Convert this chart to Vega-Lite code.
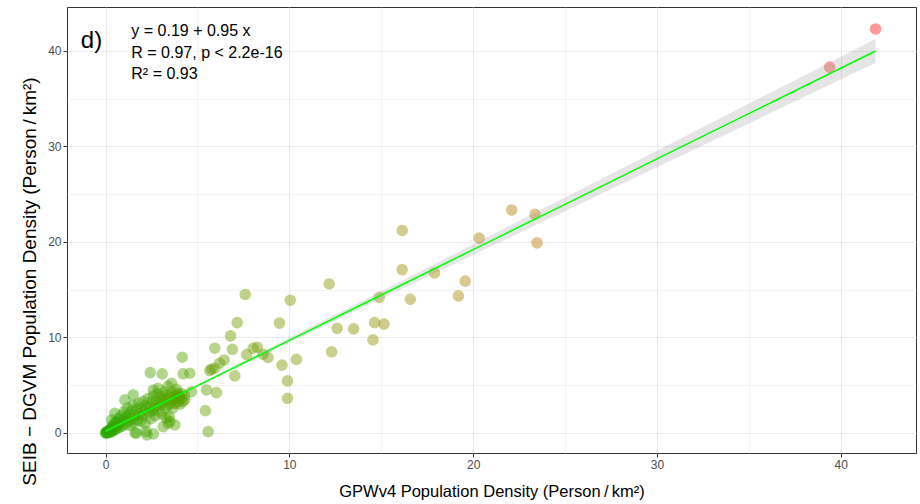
{
  "$schema": "https://vega.github.io/schema/vega-lite/v6.json",
  "autosize": "none",
  "width": 849,
  "height": 446,
  "padding": {"left": 67, "top": 7, "right": 4, "bottom": 51},
  "background": "white",
  "config": {
    "font": "Liberation Sans",
    "view": {"stroke": "#333333", "strokeWidth": 1},
    "axis": {
      "domain": false,
      "labelFont": "Liberation Sans",
      "labelFontSize": 12,
      "labelColor": "#4d4d4d",
      "tickColor": "#333333",
      "tickSize": 4,
      "titleFont": "Liberation Sans",
      "titleFontWeight": "normal",
      "titleColor": "#000000"
    }
  },
  "datasets": {
    "pts": [
      {"gpw": 41.9, "seib": 42.3}, {"gpw": 39.4, "seib": 38.3},
      {"gpw": 22.1, "seib": 23.35}, {"gpw": 23.37, "seib": 22.9}, {"gpw": 20.33, "seib": 20.4}, {"gpw": 23.48, "seib": 19.9},
      {"gpw": 19.57, "seib": 15.9}, {"gpw": 19.2, "seib": 14.35}, {"gpw": 17.9, "seib": 16.75}, {"gpw": 16.14, "seib": 17.1},
      {"gpw": 16.14, "seib": 21.2}, {"gpw": 12.17, "seib": 15.6}, {"gpw": 14.9, "seib": 14.2}, {"gpw": 16.58, "seib": 14.0},
      {"gpw": 7.6, "seib": 14.5}, {"gpw": 10.05, "seib": 13.9}, {"gpw": 7.16, "seib": 11.55}, {"gpw": 9.46, "seib": 11.5},
      {"gpw": 12.6, "seib": 10.95}, {"gpw": 13.5, "seib": 10.9}, {"gpw": 14.64, "seib": 11.55}, {"gpw": 15.15, "seib": 11.4},
      {"gpw": 14.55, "seib": 9.74}, {"gpw": 12.3, "seib": 8.5}, {"gpw": 6.8, "seib": 10.16}, {"gpw": 5.94, "seib": 8.87},
      {"gpw": 6.9, "seib": 8.76}, {"gpw": 7.68, "seib": 8.2}, {"gpw": 8.03, "seib": 8.87}, {"gpw": 8.26, "seib": 8.97},
      {"gpw": 8.57, "seib": 8.24}, {"gpw": 8.84, "seib": 7.9}, {"gpw": 10.38, "seib": 7.7}, {"gpw": 9.6, "seib": 7.1},
      {"gpw": 6.45, "seib": 7.64}, {"gpw": 5.76, "seib": 6.67}, {"gpw": 5.94, "seib": 6.78}, {"gpw": 7.03, "seib": 5.97},
      {"gpw": 9.9, "seib": 5.45}, {"gpw": 9.9, "seib": 3.63}, {"gpw": 5.49, "seib": 4.5}, {"gpw": 6.03, "seib": 4.22},
      {"gpw": 5.43, "seib": 2.34}, {"gpw": 5.58, "seib": 0.14}, {"gpw": 6.2, "seib": 7.3}, {"gpw": 5.67, "seib": 6.52},
      {"gpw": 4.17, "seib": 7.93}, {"gpw": 4.22, "seib": 6.18}, {"gpw": 4.59, "seib": 6.25}, {"gpw": 2.43, "seib": 6.32},
      {"gpw": 3.08, "seib": 6.18}, {"gpw": 3.59, "seib": 5.2}, {"gpw": 3.4, "seib": 4.9}, {"gpw": 2.6, "seib": 4.5},
      {"gpw": 2.86, "seib": 4.68}, {"gpw": 3.86, "seib": 4.57}, {"gpw": 4.67, "seib": 4.32}, {"gpw": 4.3, "seib": 3.46},
      {"gpw": 3.95, "seib": 3.98}, {"gpw": 1.5, "seib": 3.98}, {"gpw": 1.05, "seib": 3.46},
      {"gpw": 0, "seib": 0}, {"gpw": 0.02, "seib": 0.05}, {"gpw": 0.05, "seib": -0.02}, {"gpw": 0.08, "seib": 0.1},
      {"gpw": 0.1, "seib": 0.02}, {"gpw": 0.12, "seib": 0.18}, {"gpw": 0.15, "seib": 0.08}, {"gpw": 0.18, "seib": 0.25},
      {"gpw": 0.2, "seib": 0.12}, {"gpw": 0.22, "seib": 0.3}, {"gpw": 0.25, "seib": 0.05}, {"gpw": 0.28, "seib": 0.4},
      {"gpw": 0.3, "seib": 0.22}, {"gpw": 0.33, "seib": 0.55}, {"gpw": 0.35, "seib": 0.15}, {"gpw": 0.38, "seib": 0.45},
      {"gpw": 0.4, "seib": 0.8}, {"gpw": 0.42, "seib": 0.3}, {"gpw": 0.45, "seib": 0.6}, {"gpw": 0.48, "seib": 1.0},
      {"gpw": 0.5, "seib": 0.35}, {"gpw": 0.5, "seib": 2.06}, {"gpw": 0.33, "seib": 1.36}, {"gpw": 0.55, "seib": 0.7},
      {"gpw": 0.6, "seib": 1.2}, {"gpw": 0.62, "seib": 0.45}, {"gpw": 0.65, "seib": 0.95}, {"gpw": 0.69, "seib": 0.84},
      {"gpw": 0.7, "seib": 1.5}, {"gpw": 0.75, "seib": 0.6}, {"gpw": 0.8, "seib": 1.1}, {"gpw": 0.85, "seib": 1.8},
      {"gpw": 0.9, "seib": 0.7}, {"gpw": 0.95, "seib": 1.3}, {"gpw": 1.0, "seib": 2.2}, {"gpw": 1.05, "seib": 1.54},
      {"gpw": 1.1, "seib": 0.9}, {"gpw": 1.15, "seib": 1.7}, {"gpw": 1.2, "seib": 2.6}, {"gpw": 1.25, "seib": 1.2},
      {"gpw": 1.3, "seib": 1.9}, {"gpw": 1.35, "seib": 0.8}, {"gpw": 1.4, "seib": 2.3}, {"gpw": 1.45, "seib": 1.5},
      {"gpw": 1.5, "seib": 2.9}, {"gpw": 1.55, "seib": 1.1}, {"gpw": 1.6, "seib": 0.0}, {"gpw": 1.6, "seib": 1.8},
      {"gpw": 1.68, "seib": 0.0}, {"gpw": 1.7, "seib": 2.5}, {"gpw": 1.75, "seib": 1.4}, {"gpw": 1.8, "seib": 3.1},
      {"gpw": 1.85, "seib": 2.0}, {"gpw": 1.9, "seib": 1.2}, {"gpw": 1.95, "seib": 2.6}, {"gpw": 2.0, "seib": 1.8},
      {"gpw": 2.05, "seib": 3.3}, {"gpw": 2.1, "seib": 2.3}, {"gpw": 2.15, "seib": 1.0}, {"gpw": 2.2, "seib": 0.14},
      {"gpw": 2.2, "seib": 2.9}, {"gpw": 2.25, "seib": -0.2}, {"gpw": 2.3, "seib": 3.6}, {"gpw": 2.35, "seib": 2.1},
      {"gpw": 2.4, "seib": 2.7}, {"gpw": 2.45, "seib": 1.5}, {"gpw": 2.5, "seib": 3.2}, {"gpw": 2.55, "seib": 2.3},
      {"gpw": 2.6, "seib": -0.1}, {"gpw": 2.6, "seib": 3.9}, {"gpw": 2.65, "seib": 2.6}, {"gpw": 2.7, "seib": 1.8},
      {"gpw": 2.75, "seib": 3.4}, {"gpw": 2.8, "seib": 2.9}, {"gpw": 2.85, "seib": 4.1}, {"gpw": 2.9, "seib": 2.3},
      {"gpw": 2.95, "seib": 3.6}, {"gpw": 3.0, "seib": 3.0}, {"gpw": 3.05, "seib": 2.0}, {"gpw": 3.1, "seib": 3.8},
      {"gpw": 3.14, "seib": 0.66}, {"gpw": 3.15, "seib": 3.2}, {"gpw": 3.2, "seib": 4.3}, {"gpw": 3.25, "seib": 2.6},
      {"gpw": 3.3, "seib": 1.54}, {"gpw": 3.3, "seib": 3.5}, {"gpw": 3.35, "seib": 4.0}, {"gpw": 3.4, "seib": 1.0},
      {"gpw": 3.4, "seib": 2.9}, {"gpw": 3.46, "seib": 1.7}, {"gpw": 3.5, "seib": 1.18}, {"gpw": 3.5, "seib": 3.7},
      {"gpw": 3.55, "seib": 3.1}, {"gpw": 3.6, "seib": 4.2}, {"gpw": 3.65, "seib": 2.6}, {"gpw": 3.7, "seib": 3.5},
      {"gpw": 3.75, "seib": 3.9}, {"gpw": 3.77, "seib": 0.84}, {"gpw": 3.8, "seib": 3.1}, {"gpw": 3.85, "seib": 3.7},
      {"gpw": 3.9, "seib": 4.2}, {"gpw": 3.95, "seib": 3.3}, {"gpw": 4.0, "seib": 3.8}, {"gpw": 4.05, "seib": 3.0},
      {"gpw": 4.1, "seib": 3.6}, {"gpw": 4.15, "seib": 4.1}, {"gpw": 4.2, "seib": 3.3}, {"gpw": 4.3, "seib": 3.9}
    ],
    "fit": [
      {"gpw": 0, "fit": 0.19, "lo": 0.05, "hi": 0.33},
      {"gpw": 2, "fit": 2.09, "lo": 1.985, "hi": 2.195},
      {"gpw": 4, "fit": 3.99, "lo": 3.885, "hi": 4.095},
      {"gpw": 6, "fit": 5.89, "lo": 5.75, "hi": 6.03},
      {"gpw": 10, "fit": 9.69, "lo": 9.445, "hi": 9.935},
      {"gpw": 15, "fit": 14.44, "lo": 14.04, "hi": 14.84},
      {"gpw": 20, "fit": 19.19, "lo": 18.64, "hi": 19.74},
      {"gpw": 25, "fit": 23.94, "lo": 23.23, "hi": 24.65},
      {"gpw": 30, "fit": 28.69, "lo": 27.82, "hi": 29.56},
      {"gpw": 35, "fit": 33.44, "lo": 32.41, "hi": 34.47},
      {"gpw": 41.9, "fit": 39.995, "lo": 38.75, "hi": 41.24}
    ],
    "notes": [
      {"label": "d)"}
    ],
    "eq": [
      {"line1": "y = 0.19 + 0.95 x", "line2": "R = 0.97, p < 2.2e-16", "line3": "R² = 0.93"}
    ]
  },
  "layer": [
    {
      "data": {"name": "pts"},
      "mark": {"type": "circle", "size": 135, "opacity": 0.45},
      "encoding": {
        "x": {
          "field": "gpw", "type": "quantitative",
          "scale": {"domain": [-2.1, 44.1], "nice": false, "zero": false},
          "axis": {
            "values": [0, 5, 10, 15, 20, 25, 30, 35, 40],
            "labelExpr": "datum.value % 10 === 0 ? datum.label : ''",
            "tickOpacity": {"condition": {"test": "datum.value % 10 === 0", "value": 1}, "value": 0},
            "grid": true,
            "gridColor": "#ebebeb",
            "gridWidth": {"condition": {"test": "datum.value % 10 === 0", "value": 1.1}, "value": 0.6},
            "labelPadding": 2,
            "titlePadding": 13,
            "titleFontSize": 16.5,
            "title": "GPWv4 Population Density (Person\u2009/\u2009km²)"
          }
        },
        "y": {
          "field": "seib", "type": "quantitative",
          "scale": {"domain": [-2.1, 44.6], "nice": false, "zero": false},
          "axis": {
            "values": [0, 5, 10, 15, 20, 25, 30, 35, 40],
            "labelExpr": "datum.value % 10 === 0 ? datum.label : ''",
            "tickOpacity": {"condition": {"test": "datum.value % 10 === 0", "value": 1}, "value": 0},
            "grid": true,
            "gridColor": "#ebebeb",
            "gridWidth": {"condition": {"test": "datum.value % 10 === 0", "value": 1.1}, "value": 0.6},
            "labelPadding": 2,
            "titlePadding": 8,
            "titleFontSize": 19,
            "titleY": 274,
            "title": "SEIB − DGVM Population Density (Person\u2009/\u2009km²)"
          }
        },
        "color": {
          "field": "gpw", "type": "quantitative",
          "scale": {"domain": [0, 42], "range": ["#2aa800", "#ff1a1a"], "interpolate": "lab"},
          "legend": null
        }
      }
    },
    {
      "data": {"name": "fit"},
      "mark": {"type": "area", "color": "#999999", "opacity": 0.25},
      "encoding": {
        "x": {"field": "gpw", "type": "quantitative"},
        "y": {"field": "lo", "type": "quantitative"},
        "y2": {"field": "hi"}
      }
    },
    {
      "data": {"name": "fit"},
      "mark": {"type": "line", "color": "#00ff00", "strokeWidth": 1.5},
      "encoding": {
        "x": {"field": "gpw", "type": "quantitative"},
        "y": {"field": "fit", "type": "quantitative"}
      }
    },
    {
      "data": {"name": "notes"},
      "mark": {"type": "text", "align": "left", "baseline": "middle", "fontSize": 24, "font": "Liberation Sans", "color": "black"},
      "encoding": {
        "x": {"datum": -1.35, "type": "quantitative"},
        "y": {"datum": 41.0, "type": "quantitative"},
        "text": {"field": "label"}
      }
    },
    {
      "data": {"name": "eq"},
      "mark": {"type": "text", "align": "left", "baseline": "alphabetic", "fontSize": 16, "font": "Liberation Sans", "color": "black"},
      "encoding": {
        "x": {"datum": 1.4, "type": "quantitative"},
        "y": {"datum": 41.55, "type": "quantitative"},
        "text": {"field": "line1"}
      }
    },
    {
      "data": {"name": "eq"},
      "mark": {"type": "text", "align": "left", "baseline": "alphabetic", "fontSize": 16, "font": "Liberation Sans", "color": "black"},
      "encoding": {
        "x": {"datum": 1.4, "type": "quantitative"},
        "y": {"datum": 39.3, "type": "quantitative"},
        "text": {"field": "line2"}
      }
    },
    {
      "data": {"name": "eq"},
      "mark": {"type": "text", "align": "left", "baseline": "alphabetic", "fontSize": 16, "font": "Liberation Sans", "color": "black"},
      "encoding": {
        "x": {"datum": 1.4, "type": "quantitative"},
        "y": {"datum": 37.05, "type": "quantitative"},
        "text": {"field": "line3"}
      }
    }
  ]
}
